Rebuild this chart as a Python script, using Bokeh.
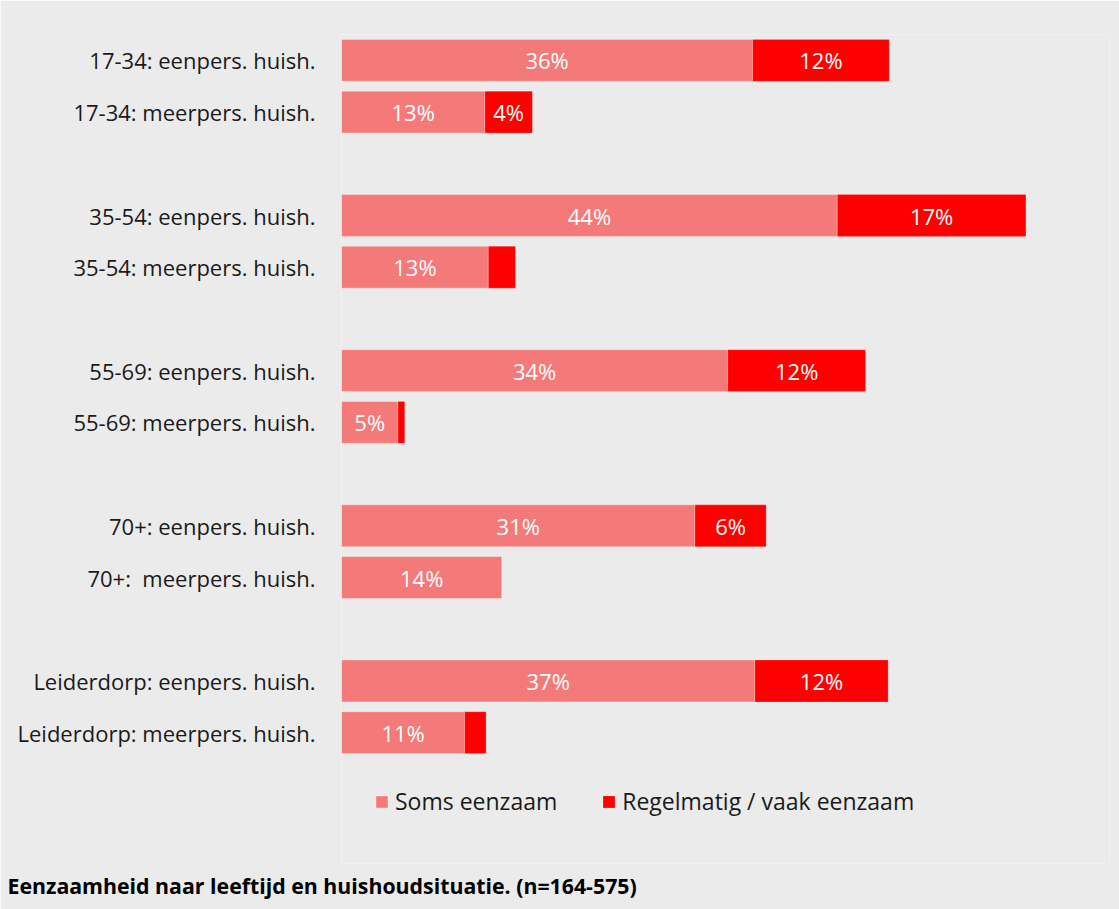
from bokeh.plotting import figure
from bokeh.models import (ColumnDataSource, Range1d, FixedTicker, Legend, LegendItem, Title)
from bokeh.core.properties import value
from bokeh.embed import file_html
from bokeh.resources import INLINE

# ---- data ----
groups = ["17-34", "35-54", "55-69", "70+", "Leiderdorp"]
categories = [
    "17-34: eenpers. huish.", "17-34: meerpers. huish.",
    "35-54: eenpers. huish.", "35-54: meerpers. huish.",
    "55-69: eenpers. huish.", "55-69: meerpers. huish.",
    "70+: eenpers. huish.", "70+:\u00a0 meerpers. huish.",
    "Leiderdorp: eenpers. huish.", "Leiderdorp: meerpers. huish.",
]
soms_eenzaam = [36.4, 12.7, 43.9, 13.0, 34.2, 5.0, 31.3, 14.2, 36.6, 10.9]
regelmatig_eenzaam = [12.1, 4.2, 16.7, 2.4, 12.2, 0.6, 6.3, 0.0, 11.8, 1.9]
series_names = ["Soms eenzaam", "Regelmatig / vaak eenzaam"]
caption = "Eenzaamheid naar leeftijd en huishoudsituatie. (n=164-575)"

FONT = "Open Sans"
C_SOMS = "#f47a7a"
C_REG = "#ff0000"
BG = "#ebebeb"

# positions: two bars per group, a one-row gap between groups
pos = [(i // 2) * 3 + (i % 2) for i in range(len(categories))]

soms_left = [0.0] * len(categories)
soms_right = soms_eenzaam[:]
reg_left = soms_eenzaam[:]
reg_right = [a + b for a, b in zip(soms_eenzaam, regelmatig_eenzaam)]

src = ColumnDataSource(dict(
    y=pos, cat=categories,
    s_left=soms_left, s_right=soms_right,
    r_left=reg_left, r_right=reg_right,
))

p = figure(
    frame_width=768, frame_height=829,
    min_border_left=341, min_border_right=10,
    min_border_top=34, min_border_bottom=46,
    x_range=Range1d(0, 68), y_range=Range1d(15.53, -0.5),
    output_backend="svg", toolbar_location=None,
    background_fill_color=BG, border_fill_color=BG,
)
p.outline_line_color = None
p.xgrid.visible = False
p.ygrid.visible = False
p.xaxis.visible = False

yax = p.yaxis[0]
yax.ticker = FixedTicker(ticks=pos, minor_ticks=[])
yax.major_label_overrides = {pp: c for pp, c in zip(pos, categories)}
yax.axis_line_color = None
yax.major_tick_line_color = None
yax.minor_tick_line_color = None
yax.major_label_standoff = 20
yax.major_label_text_font = FONT
yax.major_label_text_font_size = "22px"
yax.major_label_text_color = "#1a1a1a"

h = 0.81
r1 = p.hbar(y="y", left="s_left", right="s_right", height=h, source=src,
            fill_color=C_SOMS, line_color="white", line_alpha=0.35, line_width=1)
r2 = p.hbar(y="y", left="r_left", right="r_right", height=h, source=src,
            fill_color=C_REG, line_color="white", line_alpha=0.2, line_width=1)

# value labels
lx, ly, lt = [], [], []
for y, a, b in zip(pos, soms_eenzaam, regelmatig_eenzaam):
    if a >= 3.5:
        lx.append(a / 2); ly.append(y); lt.append(f"{round(a):.0f}%")
    if b >= 3.5:
        lx.append(a + b / 2); ly.append(y); lt.append(f"{round(b):.0f}%")
p.text(x=lx, y=ly, text=lt, text_align="center", text_baseline="middle",
       text_color="white", text_font=value(FONT), text_font_size="22px")

legend = Legend(
    items=[LegendItem(label=series_names[0], renderers=[r1]),
           LegendItem(label=series_names[1], renderers=[r2])],
    orientation="horizontal", location=(33, 46),
    padding=0, margin=0, spacing=44,
    glyph_width=15, glyph_height=15, label_standoff=6, label_height=26,
    label_text_font=FONT, label_text_font_size="23px", label_text_color="#1a1a1a",
    background_fill_alpha=0, border_line_color=None,
)
p.add_layout(legend, "center")

p.add_layout(Title(text=caption, align="left", offset=-334,
                   text_font=FONT, text_font_size="21.3px",
                   text_font_style="bold", text_color="black"), "below")

open("out.html", "w").write(file_html(p, INLINE))
